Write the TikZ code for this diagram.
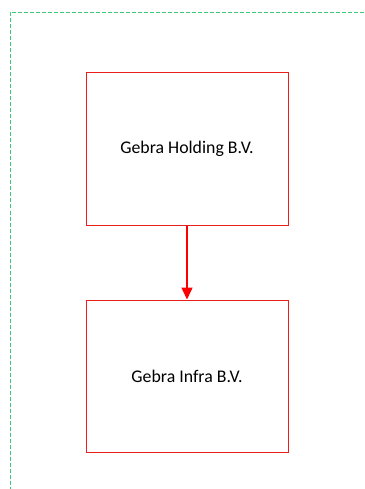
\documentclass[tikz,border=0pt]{standalone}
\usepackage{fontspec}
\setmainfont{Carlito}
\usetikzlibrary{positioning,arrows.meta}

\definecolor{boxred}{RGB}{235,30,30}
\definecolor{framegreen}{RGB}{60,200,120}

\tikzset{
    company/.style={draw=boxred, line width=1pt, minimum width=202pt, minimum height=152pt,
        inner sep=0pt, font=\fontsize{17.8}{21}\selectfont},
    owns/.style={draw=red, line width=1.5pt, -{Triangle[width=11pt,length=12pt]}},
    frameline/.style={draw=framegreen, line width=1pt, dash pattern=on 4pt off 2pt}
}

\begin{document}
\begin{tikzpicture}[x=1pt,y=-1pt]
        \useasboundingbox (0,0) rectangle (364,489);
        \draw[frameline] (364,12.5) -- (10,12.5) -- (10,489);
        \node[company] (holding) at (187,149) {Gebra Holding B.V.};
        \node[company, below=74pt of holding] (infra) {Gebra Infra B.V.};
        \draw[owns] (holding.south) -- (infra.north);
\end{tikzpicture}
\end{document}
